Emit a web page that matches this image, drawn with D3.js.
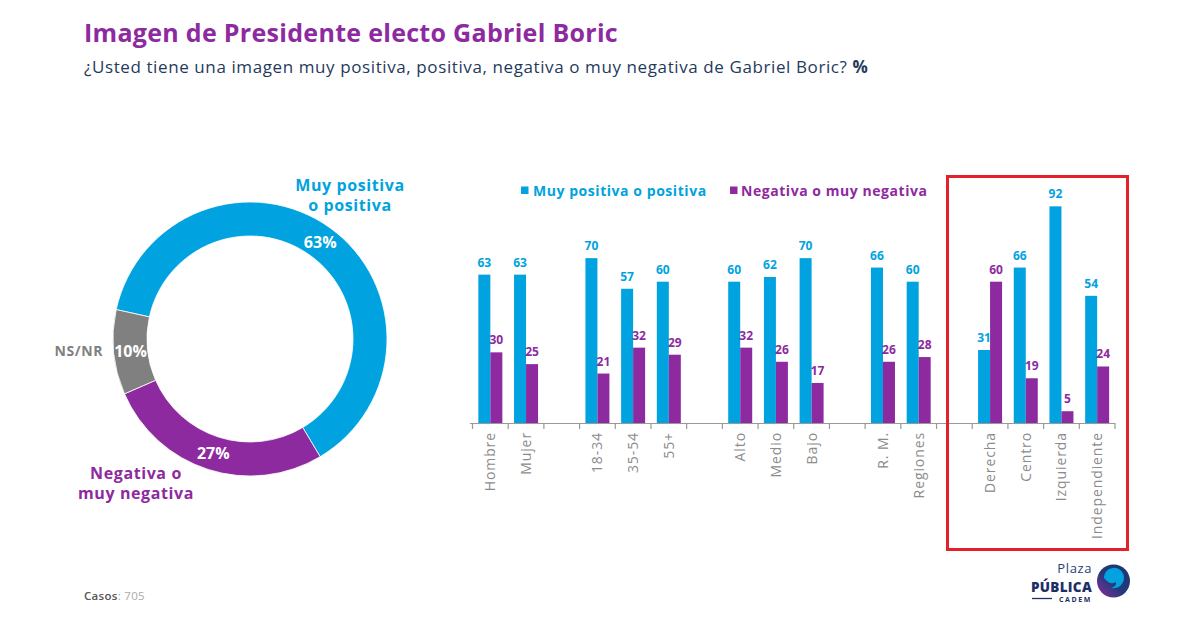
<!DOCTYPE html>
<html><head><meta charset="utf-8">
<script src="https://cdn.jsdelivr.net/npm/d3@7"></script>
<style>
body{margin:0;background:#fff;}
svg{display:block;font-family:"Open Sans",sans-serif;}
</style></head>
<body>
<svg id="c" width="1200" height="633"></svg>
<script>
// ---- data ----
const donutLabels = ["Muy positiva o positiva", "Negativa o muy negativa", "NS/NR"];
const donutValues = [63, 27, 10];
const categories = ["Hombre","Mujer","_g1","18-34","35-54","55+","_g2","Alto","Medio","Bajo","_g3","R. M.","Regiones","_g4","Derecha","Centro","Izquierda","Independiente"];
const positiveValues = [63,63,null,70,57,60,null,60,62,70,null,66,60,null,31,66,92,54];
const negativeValues = [30,25,null,21,32,29,null,32,26,17,null,26,28,null,60,19,5,24];
const seriesNames = ["Muy positiva o positiva","Negativa o muy negativa"];

const BLUE = "#00a3df", PURPLE = "#8e2aa0", GRAY = "#808080";
const svg = d3.select("#c");

// ---- titles ----
svg.append("text").attr("x",84).attr("y",42).attr("fill","#8e2a9f")
  .attr("font-size",25).attr("letter-spacing",0.3).attr("font-weight",700).text("Imagen de Presidente electo Gabriel Boric");
const sub = svg.append("text").attr("x",84).attr("y",73).attr("fill","#1f3a5c").attr("font-size",17).attr("letter-spacing",0.6);
sub.append("tspan").text("¿Usted tiene una imagen muy positiva, positiva, negativa o muy negativa de Gabriel Boric? ");
sub.append("tspan").attr("font-weight",700).text("%");

// ---- donut ----
const cx = 250, cy = 339, rOut = 137, rIn = 103;
const start = -77.6 * Math.PI / 180;
const pie = d3.pie().sort(null).startAngle(start).endAngle(start + 2*Math.PI);
const arcs = pie(donutValues);
const arc = d3.arc().innerRadius(rIn).outerRadius(rOut);
const dg = svg.append("g").attr("transform",`translate(${cx},${cy})`);
const dColors = [BLUE, PURPLE, GRAY];
dg.selectAll("path").data(arcs).join("path").attr("d",arc)
  .attr("fill",(d,i)=>dColors[i]).attr("stroke","#fff").attr("stroke-width",0.8);
const labArc = d3.arc().innerRadius(120).outerRadius(120);
dg.selectAll("text.pct").data(arcs).join("text").attr("class","pct")
  .attr("x",d=>labArc.centroid(d)[0]).attr("y",d=>labArc.centroid(d)[1]+6)
  .attr("text-anchor","middle").attr("fill","#fff").attr("font-size",16).attr("font-weight",700)
  .text(d=>d.value+"%");
// outer labels
const outer = [
  {lines:["Muy positiva","o positiva"], x:350, y:191, color:BLUE, anchor:"middle", fs:16},
  {lines:["Negativa o","muy negativa"], x:136, y:479, color:PURPLE, anchor:"middle", fs:16},
  {lines:["NS/NR"], x:103, y:356, color:GRAY, anchor:"end", fs:14}
];
outer.forEach(o=>{
  const t = svg.append("text").attr("x",o.x).attr("y",o.y).attr("text-anchor",o.anchor)
    .attr("fill",o.color).attr("font-size",o.fs).attr("letter-spacing",0.6).attr("font-weight",700);
  o.lines.forEach((l,i)=>t.append("tspan").attr("x",o.x).attr("dy",i?20:0).text(l));
});

// ---- bar chart ----
const x = d3.scaleBand().domain(categories).range([472.5, 1115]).paddingInner(0).paddingOuter(0);
const y = d3.scaleLinear().domain([0,100]).range([423, 187.5]);
const bw = 12;
const bg = svg.append("g");
const rows = categories.map((c,i)=>({c, p:positiveValues[i], n:negativeValues[i]})).filter(d=>d.p!==null);
bg.selectAll("rect.p").data(rows).join("rect").attr("class","p")
  .attr("x",d=>x(d.c)+x.bandwidth()/2-bw).attr("width",bw)
  .attr("y",d=>y(d.p)).attr("height",d=>y(0)-y(d.p)).attr("fill",BLUE);
bg.selectAll("rect.n").data(rows).join("rect").attr("class","n")
  .attr("x",d=>x(d.c)+x.bandwidth()/2).attr("width",bw)
  .attr("y",d=>y(d.n)).attr("height",d=>y(0)-y(d.n)).attr("fill",PURPLE);
bg.selectAll("text.pl").data(rows).join("text").attr("class","pl")
  .attr("x",d=>x(d.c)+x.bandwidth()/2-bw/2).attr("y",d=>y(d.p)-8)
  .attr("text-anchor","middle").attr("fill",BLUE).attr("font-size",12).attr("font-weight",700).text(d=>d.p);
bg.selectAll("text.nl").data(rows).join("text").attr("class","nl")
  .attr("x",d=>x(d.c)+x.bandwidth()/2+bw/2).attr("y",d=>y(d.n)-8)
  .attr("text-anchor","middle").attr("fill",PURPLE).attr("font-size",12).attr("font-weight",700).text(d=>d.n);

// axis
const ag = svg.append("g");
ag.append("line").attr("x1",470).attr("x2",1115).attr("y1",423.5).attr("y2",423.5).attr("stroke","#999").attr("stroke-width",1.2);
const bounds = categories.map(c=>x(c)).concat([x.range()[1]]);
ag.selectAll("line.t").data(bounds).join("line").attr("class","t")
  .attr("x1",d=>d).attr("x2",d=>d).attr("y1",423).attr("y2",429).attr("stroke","#999").attr("stroke-width",1.2);
ag.selectAll("text").data(rows).join("text")
  .attr("transform",d=>`translate(${x(d.c)+x.bandwidth()/2+5},432) rotate(-90)`)
  .attr("text-anchor","end").attr("fill","#8c8c8c").attr("font-size",14).attr("letter-spacing",0.9).text(d=>d.c);

// legend
const lg = svg.append("g");
[[521, BLUE, 533],[730, PURPLE, 741]].forEach((l,i)=>{
  lg.append("rect").attr("x",l[0]).attr("y",186.5).attr("width",7.5).attr("height",7.5).attr("fill",l[1]);
  lg.append("text").attr("x",l[2]).attr("y",196).attr("fill",l[1]).attr("font-size",14).attr("letter-spacing",0.55).attr("font-weight",700).text(seriesNames[i]);
});

// highlight box
svg.append("rect").attr("x",947.5).attr("y",176.5).attr("width",180).attr("height",373)
  .attr("fill","none").attr("stroke","#e4202a").attr("stroke-width",3);

// footer
const ft = svg.append("text").attr("x",84).attr("y",600).attr("font-size",11.5).attr("letter-spacing",0.3);
ft.append("tspan").attr("fill","#555").attr("font-weight",600).text("Casos");
ft.append("tspan").attr("fill","#aaa").text(": 705");

// logo
const logo = svg.append("g");
logo.append("text").attr("x",1092).attr("y",572.5).attr("text-anchor","end").attr("fill","#2b3f73").attr("font-size",13).attr("letter-spacing",0.6).text("Plaza");
logo.append("text").attr("x",1092).attr("y",592).attr("text-anchor","end").attr("fill","#1e2f66").attr("font-size",13.5).attr("font-weight",800).attr("letter-spacing",0.3).text("PÚBLICA");
logo.append("text").attr("x",1092).attr("y",602).attr("text-anchor","end").attr("fill","#1e2f66").attr("font-size",7).attr("font-weight",700).attr("letter-spacing",1.6).text("CADEM");
logo.append("line").attr("x1",1032).attr("x2",1052).attr("y1",598.5).attr("y2",598.5).attr("stroke","#1e2f66").attr("stroke-width",1.3);
const defs = svg.append("defs");
const gr = defs.append("linearGradient").attr("id","lg1").attr("x1","0").attr("y1","1").attr("x2","1").attr("y2","0");
gr.append("stop").attr("offset","0").attr("stop-color","#8e2aa0");
gr.append("stop").attr("offset","0.45").attr("stop-color","#243a7a");
gr.append("stop").attr("offset","1").attr("stop-color","#1c3470");
logo.append("circle").attr("cx",1113.5).attr("cy",581).attr("r",16.5).attr("fill","url(#lg1)");
logo.append("path").attr("d","M1104,578 a10,10 0 1 1 17,7 q-4,4 -10,3 q6,-2 5,-6 q-5,3 -9,-1 z").attr("fill","#00a3df");
</script>
</body></html>
